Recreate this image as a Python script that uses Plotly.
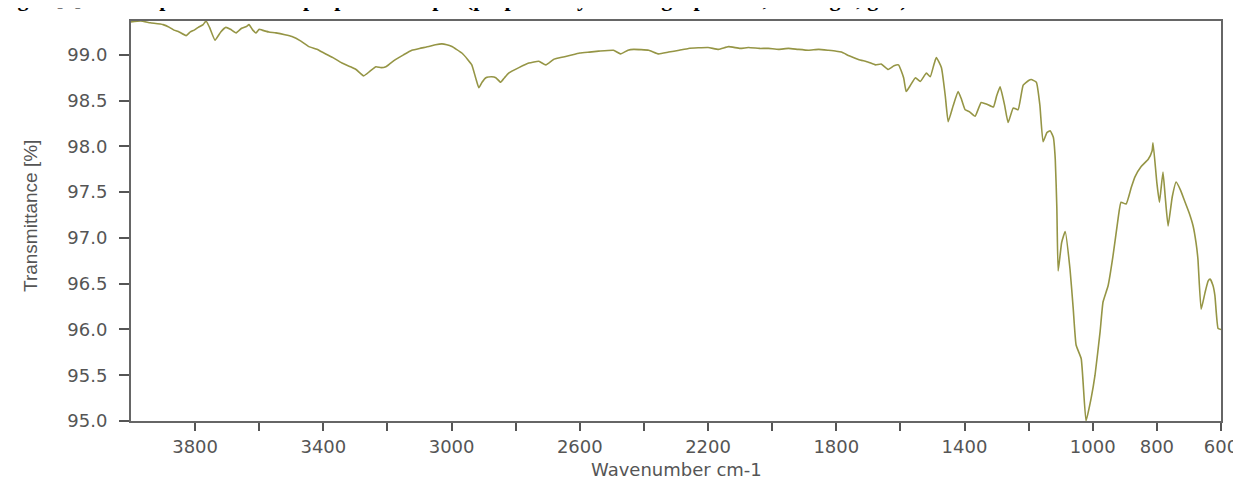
import plotly.graph_objects as go

# Wavenumber (cm-1) and transmittance (%)
wavenumber = [
    4000, 3970, 3940, 3900, 3880, 3866, 3850, 3828, 3815, 3803, 3790, 3775, 3766, 3755,
    3738, 3720, 3704, 3690, 3672, 3655, 3640, 3632, 3620, 3610, 3600, 3591, 3570, 3548,
    3520, 3498, 3470, 3445, 3420, 3404, 3370, 3342, 3315, 3298, 3285, 3274, 3255, 3236,
    3220, 3205, 3190, 3174, 3150, 3124, 3100, 3071, 3050, 3030, 3015, 2999, 2985, 2968,
    2950, 2937, 2925, 2915, 2905, 2893, 2875, 2862, 2847, 2835, 2822, 2790, 2759, 2728,
    2706, 2682, 2660, 2635, 2600, 2570, 2541, 2495, 2473, 2450, 2432, 2385, 2354, 2323,
    2290, 2261, 2200, 2167, 2136, 2100, 2074, 2040, 2012, 1980, 1949, 1920, 1887, 1855,
    1825, 1800, 1784, 1760, 1731, 1700, 1678, 1660, 1638, 1620, 1606, 1590, 1582, 1570,
    1553, 1538, 1519, 1507, 1495, 1488, 1472, 1460, 1451, 1435, 1420, 1410, 1398, 1385,
    1367, 1348, 1330, 1310, 1300, 1289, 1275, 1264, 1248, 1233, 1217, 1200, 1192, 1176,
    1165, 1155, 1143, 1133, 1123, 1117, 1112, 1108, 1097, 1086, 1071, 1061, 1052, 1036,
    1021, 1005, 993, 977, 968, 952, 937, 921, 912, 896, 880, 868, 849, 827,
    815, 812, 800, 792, 781, 774, 765, 752, 740, 726, 712, 700, 687, 678,
    672, 662, 650, 640, 634, 625, 619, 609, 600,
]
transmittance = [
    99.36, 99.37, 99.35, 99.33, 99.30, 99.27, 99.25, 99.21, 99.25, 99.27, 99.30, 99.33, 99.37, 99.30,
    99.16, 99.25, 99.30, 99.28, 99.24, 99.29, 99.31, 99.33, 99.27, 99.24, 99.28, 99.27, 99.25, 99.24,
    99.22, 99.20, 99.15, 99.09, 99.06, 99.03, 98.97, 98.91, 98.87, 98.84, 98.80, 98.77, 98.82, 98.87,
    98.86, 98.87, 98.91, 98.95, 99.00, 99.05, 99.07, 99.09, 99.11, 99.12, 99.11, 99.09, 99.06, 99.02,
    98.95, 98.89, 98.75, 98.64, 98.70, 98.75, 98.76, 98.75, 98.70, 98.75, 98.80, 98.86, 98.91, 98.93,
    98.89, 98.95, 98.97, 98.99, 99.02, 99.03, 99.04, 99.05, 99.01, 99.05, 99.06, 99.05, 99.01, 99.03,
    99.05, 99.07, 99.08, 99.06, 99.09, 99.07, 99.08, 99.07, 99.07, 99.06, 99.07, 99.06, 99.05, 99.06,
    99.05, 99.04, 99.03, 98.99, 98.95, 98.92, 98.89, 98.90, 98.84, 98.88, 98.89, 98.75, 98.60, 98.66,
    98.75, 98.71, 98.80, 98.76, 98.90, 98.97, 98.86, 98.55, 98.27, 98.45, 98.60, 98.52, 98.40, 98.38,
    98.33, 98.48, 98.46, 98.43, 98.55, 98.65, 98.45, 98.26, 98.42, 98.40, 98.67, 98.72, 98.73, 98.70,
    98.45, 98.05, 98.15, 98.17, 98.10, 97.86, 97.32, 96.64, 96.95, 97.07, 96.66, 96.23, 95.83, 95.68,
    95.00, 95.25, 95.50, 95.98, 96.30, 96.48, 96.80, 97.21, 97.39, 97.37, 97.55, 97.67, 97.78, 97.86,
    97.95, 98.04, 97.60, 97.39, 97.72, 97.45, 97.13, 97.45, 97.61, 97.52, 97.39, 97.28, 97.13, 96.95,
    96.77, 96.22, 96.40, 96.53, 96.55, 96.48, 96.37, 96.01, 96.00,
]

x_tick_values = list(range(600, 3801, 200))
x_labeled = [3800, 3400, 3000, 2600, 2200, 1800, 1400, 1000, 800, 600]
x_tick_text = [str(v) if v in x_labeled else "" for v in x_tick_values]

caption = "Fig. 4 [5]. FTIR spectrum of the prepared sample (prepared by the sol-gel process, dried gel, g. 5)"

W, H = 1241, 480
ML, MR, MT, MB = 123, 28, 11, 67
PW, PH = W - ML - MR, H - MT - MB

fig = go.Figure()
fig.add_trace(go.Scatter(
    x=wavenumber, y=transmittance, mode="lines",
    line=dict(color="#959545", width=1.6, shape="spline", smoothing=0.4),
    hoverinfo="x+y", showlegend=False,
))

axis_font = dict(family="DejaVu Sans", size=18, color="#555555")

fig.update_layout(
    width=W, height=H,
    margin=dict(l=ML, r=MR, t=MT, b=MB),
    paper_bgcolor="white", plot_bgcolor="white",
    xaxis=dict(
        range=[4000, 600], showgrid=False, zeroline=False,
        showline=True, mirror=True, linecolor="#666666", linewidth=2,
        ticks="outside", ticklen=8, tickwidth=1.5, tickcolor="#555555",
        tickvals=x_tick_values, ticktext=x_tick_text,
        tickfont=axis_font, ticklabelstandoff=0,
    ),
    yaxis=dict(
        range=[95.0, 95.0 + PH / 92.0], showgrid=False, zeroline=False,
        showline=True, mirror=True, linecolor="#666666", linewidth=2,
        ticks="outside", ticklen=10, tickwidth=1.5, tickcolor="#555555",
        tick0=95.0, dtick=0.5, tickformat=".1f",
        tickfont=axis_font, ticklabelstandoff=8,
    ),
    annotations=[
        dict(text="Wavenumber cm-1", xref="paper", yref="paper",
             x=0.5, y=(413 - 462) / PH, xanchor="center", yanchor="middle",
             showarrow=False, font=dict(family="DejaVu Sans", size=18, color="#555555")),
        dict(text="Transmittance [%]", xref="paper", yref="paper",
             x=(22 - ML) / PW, y=(413 - 207) / PH, xanchor="center", yanchor="middle",
             textangle=-90, showarrow=False,
             font=dict(family="Liberation Sans", size=19, color="#555555")),
        dict(text="<b>" + caption + "</b>", xref="paper", yref="paper",
             x=(-12 - ML) / PW, y=(413 - 3) / PH, xanchor="left", yanchor="bottom",
             showarrow=False, font=dict(family="Liberation Serif", size=22, color="black")),
    ],
)

fig.write_html("out.html")
